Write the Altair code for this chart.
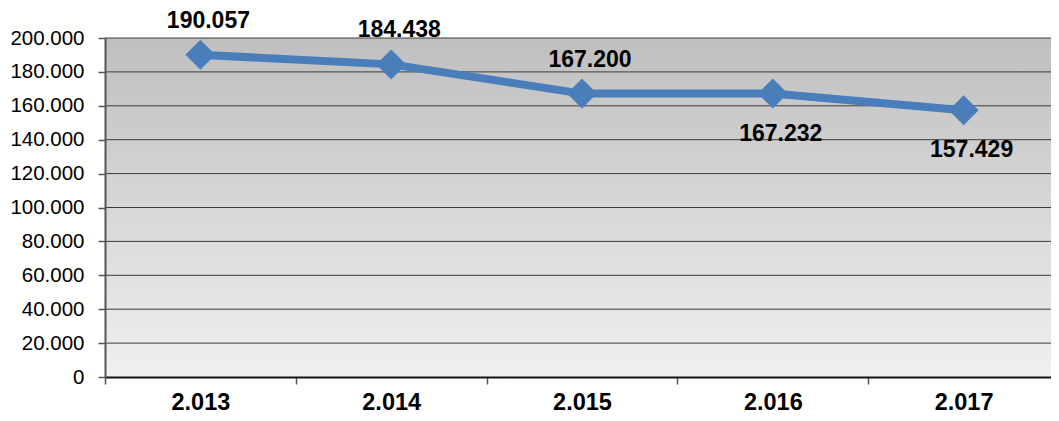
import altair as alt
import pandas as pd

years = ["2.013", "2.014", "2.015", "2.016", "2.017"]
values = [190057, 184438, 167200, 167232, 157429]
labels = ["190.057", "184.438", "167.200", "167.232", "157.429"]
label_side = ["above", "above", "above", "below", "below"]
y_ticks = [0, 20000, 40000, 60000, 80000, 100000, 120000, 140000, 160000, 180000, 200000]

df = pd.DataFrame({"year": years, "value": values, "label": labels, "side": label_side})
grid_df = pd.DataFrame({"t": y_ticks[1:]})
bg_df = pd.DataFrame({"lo": [y_ticks[0]], "hi": [y_ticks[-1]]})

FONT = "Liberation Sans"
BLUE = "#4a7ebb"

x = alt.X(
    "year:O",
    sort=years,
    bandPosition=0.5,
    scale=alt.Scale(type="band", paddingInner=0, paddingOuter=0),
    axis=alt.Axis(
        title=None, labelAngle=0, tickBand="extent", grid=False,
        labelFont=FONT, labelFontSize=23.5, labelFontWeight="bold", labelColor="#000000",
        labelPadding=6, tickSize=7, tickColor="#555555", tickWidth=1.5,
        domainColor="#111111", domainWidth=2, zindex=1,
    ),
)
y_scale = alt.Scale(domain=[0, 200000], nice=False, zero=True)
y_axis = alt.Axis(
    title=None, values=y_ticks, labelOverlap=False, labelBound=False,
    labelExpr="replace(format(datum.value, ','), ',', '.')",
    labelFont=FONT, labelFontSize=20.5, labelColor="#000000", labelPadding=14,
    tickSize=7, tickColor="#555555", tickWidth=1.5,
    domainColor="#555555", domainWidth=2, grid=False, zindex=1,
)
y = alt.Y("value:Q", scale=y_scale, axis=y_axis)

bg = alt.Chart(bg_df).mark_rect(
    color=alt.Gradient(
        gradient="linear", x1=0, x2=0, y1=1, y2=0,
        stops=[alt.GradientStop(offset=0, color="#f0f0f0"),
               alt.GradientStop(offset=1, color="#bfbfbf")],
    )
).encode(y=alt.Y("lo:Q", scale=y_scale, axis=y_axis), y2="hi:Q")

grid = alt.Chart(grid_df).mark_rule(color="#3c3c3c", strokeWidth=1).encode(
    y=alt.Y("t:Q", scale=y_scale, axis=y_axis)
)

base = alt.Chart(df)
line = base.mark_line(color=BLUE, strokeWidth=8).encode(x=x, y=y)
pts = base.mark_point(shape="diamond", filled=True, size=900, color=BLUE, opacity=1).encode(x=x, y=y)
txt_above = base.transform_filter(alt.datum.side == "above").mark_text(
    dy=-34, dx=8, font=FONT, fontSize=23, fontWeight="bold", color="#000000"
).encode(x=x, y=y, text="label:N")
txt_below = base.transform_filter(alt.datum.side == "below").mark_text(
    dy=40, dx=8, font=FONT, fontSize=23, fontWeight="bold", color="#000000"
).encode(x=x, y=y, text="label:N")

chart = (
    alt.layer(bg, grid, line, pts, txt_above, txt_below)
    .properties(
        width=954, height=339,
        autosize=alt.AutoSizeParams(type="none"),
        padding={"left": 97, "top": 30, "right": -8, "bottom": 36},
    )
    .configure_view(stroke=None)
)

chart.save("out.html", embed_options={"renderer": "svg", "actions": False})
